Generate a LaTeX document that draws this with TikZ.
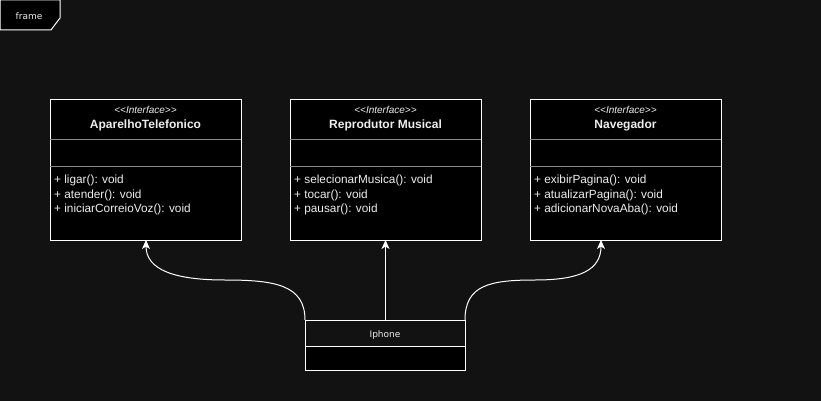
\documentclass[tikz,border=0pt]{standalone}
\usepackage{fontspec}
\setmainfont{Liberation Sans}[Ligatures=NoCommon]
\newfontfamily\uifont{DejaVu Sans}
\usetikzlibrary{arrows.meta}
\definecolor{bgc}{HTML}{121212}
\definecolor{txt}{HTML}{EDEDED}
\definecolor{divc}{HTML}{8A8A8A}
\newcommand{\stereotxt}{<{}<Interface>{}>}
\begin{document}
\begin{tikzpicture}[x=1pt,y=-1pt,
  classbox/.style={draw=white,fill=black,line width=1pt},
  divider/.style={draw=divc,line width=0.8pt},
  stereo/.style={text=txt,font=\fontsize{10}{12}\selectfont\itshape,inner sep=0pt},
  cname/.style={text=txt,font=\fontsize{12}{14}\selectfont\bfseries,inner sep=0pt},
  meth/.style={text=txt,font=\fontsize{11.8}{13}\selectfont,inner sep=0pt,anchor=west},
  uitext/.style={text=txt,font=\uifont\fontsize{9}{11}\selectfont,inner sep=0pt},
  conn/.style={draw=white,line width=1pt,-{Stealth[length=9pt,width=8pt,inset=2.5pt]}}
]
\useasboundingbox (0,0) rectangle (821,401);
\fill[bgc] (0,0) rectangle (821,401);
% frame label
\draw[draw=white,fill=black,line width=1pt] (0,0) -- (60,0) -- (60,18) -- (51,30) -- (0,30) -- cycle;
\node[uitext] (framelbl) at (29,16) {frame};

% Box 1
\path[classbox] (50,100) rectangle (241,240);
\coordinate (b1s) at (146,240);
\draw[divider] (50,139) -- (241,139);
\draw[divider] (50,166) -- (241,166);
\node[stereo] (b1st) at (145.5,110) {\stereotxt};
\node[cname] (b1n) at (145.5,125) {AparelhoTelefonico};
\node[meth] (b1m1) at (54,180) {+ ligar(): void};
\node[meth] (b1m2) at (54,195) {+ atender(): void};
\node[meth] (b1m3) at (54,209) {+ iniciarCorreioVoz(): void};

% Box 2
\path[classbox] (290,100) rectangle (481,240);
\coordinate (b2s) at (385.5,240);
\draw[divider] (290,139) -- (481,139);
\draw[divider] (290,166) -- (481,166);
\node[stereo] (b2st) at (385.5,110) {\stereotxt};
\node[cname] (b2n) at (385.5,125) {Reprodutor Musical};
\node[meth] (b2m1) at (294,180) {+ selecionarMusica(): void};
\node[meth] (b2m2) at (294,195) {+ tocar(): void};
\node[meth] (b2m3) at (294,209) {+ pausar(): void};

% Box 3
\path[classbox] (530,100) rectangle (721,240);
\coordinate (b3s) at (601,240);
\draw[divider] (530,139) -- (721,139);
\draw[divider] (530,166) -- (721,166);
\node[stereo] (b3st) at (625.5,110) {\stereotxt};
\node[cname] (b3n) at (625.5,125) {Navegador};
\node[meth] (b3m1) at (534,180) {+ exibirPagina(): void};
\node[meth] (b3m2) at (534,195) {+ atualizarPagina(): void};
\node[meth] (b3m3) at (534,209) {+ adicionarNovaAba(): void};

% Iphone
\draw[draw=white,fill=bgc,line width=1pt] (305,320) rectangle (465,346);
\draw[draw=white,fill=black,line width=1pt] (305,346) rectangle (465,370);
\node[uitext] (iph) at (385,335) {Iphone};
\coordinate (ipl) at (305,320);
\coordinate (ipc) at (385.5,320);
\coordinate (ipr) at (465,320);

% connectors
\draw[conn] (ipc) -- (b2s);
\draw[conn] (ipl) .. controls (305,285) and (275,280) .. (225,280)
  .. controls (175,280) and (146,270) .. (b1s);
\draw[conn] (ipr) .. controls (465,285) and (490,280) .. (535,280)
  .. controls (580,280) and (601,270) .. (b3s);
\end{tikzpicture}
\end{document}
